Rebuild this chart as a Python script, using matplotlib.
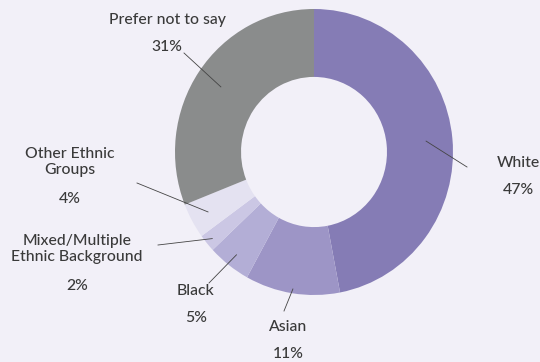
import matplotlib
matplotlib.use("Agg")
import matplotlib.pyplot as plt
import numpy as np

categories = ["White", "Asian", "Black", "Mixed/Multiple\nEthnic Background",
              "Other Ethnic\nGroups", "Prefer not to say"]
values = [47, 11, 5, 2, 4, 31]
pct_labels = ["47%", "11%", "5%", "2%", "4%", "31%"]
colors = ["#857cb5", "#9d95c6", "#b3aed6", "#cbc7e4", "#e4e2f1", "#8a8c8c"]

BG = "#f2f0f8"
W, H = 540, 362
CX, CY = 314, 152          # centre in pixels (from top-left)
RX, RY = 139, 143          # pixels per data unit

def px(x, y):
    return ((x - CX) / RX, (CY - y) / RY)

fig = plt.figure(figsize=(W / 100, H / 100), dpi=100)
fig.patch.set_facecolor(BG)
ax = fig.add_axes([0, 0, 1, 1])
ax.set_facecolor(BG)

wedges, _ = ax.pie(values, colors=colors, startangle=90, counterclock=False,
                   radius=1.0, wedgeprops=dict(width=0.475, edgecolor="none"),
                   frame=True)
ax.set_xlim(-CX / RX, (W - CX) / RX)
ax.set_ylim(-(H - CY) / RY, CY / RY)
ax.set_aspect("auto")
ax.axis("off")

label_pos = [(518, 163), (288, 327), (196, 291), (77, 249), (70, 162), (167, 20)]
pct_pos = [(518, 190), (288, 354), (196, 318), (77, 286), (70, 199), (167, 47)]
line_outer = [(467, 167), (284, 311), (209, 283), (158, 245), (137, 183), (184, 53)]
line_r = [0.81, 0.97, 0.91, 0.95, 0.87, 0.81]

txtc = "#3a3a3a"
fam = ["Lato", "DejaVu Sans"]
cum = np.cumsum([0] + values)
tot = sum(values)
for i, w in enumerate(wedges):
    mid = 90 - 360 * (cum[i] + values[i] / 2) / tot
    a = np.deg2rad(mid)
    x0, y0 = line_r[i] * np.cos(a), line_r[i] * np.sin(a)
    x1, y1 = px(*line_outer[i])
    ax.plot([x0, x1], [y0, y1], color="#444444", lw=0.6)
    lx, ly = px(*label_pos[i])
    ax.text(lx, ly, categories[i], ha="center", va="center", fontsize=11.3,
            color=txtc, family=fam, weight="medium", linespacing=1.2)
    qx, qy = px(*pct_pos[i])
    ax.text(qx, qy, pct_labels[i], ha="center", va="center", fontsize=11.3,
            color=txtc, family=fam, weight="medium")

fig.savefig("out.png", dpi=100, facecolor=BG)
